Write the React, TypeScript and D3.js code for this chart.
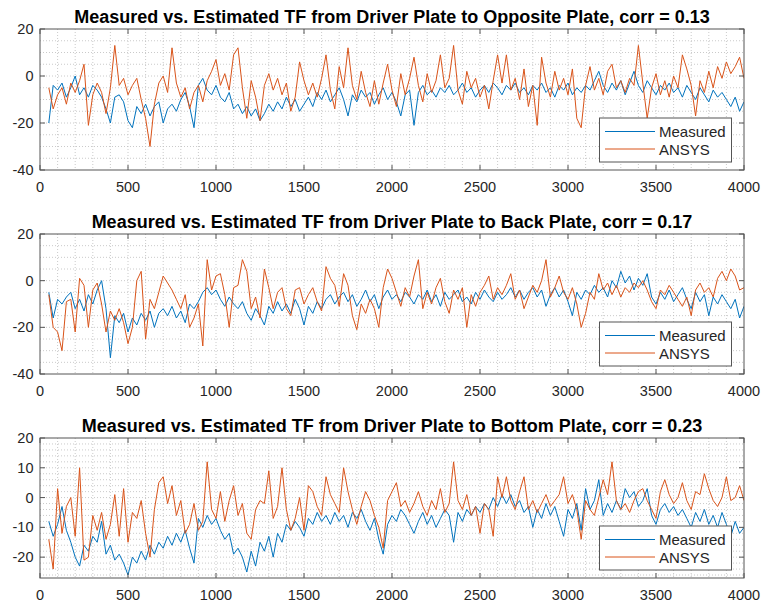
import React from 'react';
import * as d3 from 'd3';

// Frequency grid (Hz) shared by all curves
const freq: number[] = d3.range(50, 4001, 25);

// Driver plate -> opposite plate (dB)
const measuredOpposite = [
  -20, -4, -6, -3, -9, -5, 0, -8, -5, -9,
  -4, -6, -9, -14, -20, -9, -8, -11, -19, -22,
  -13, -16, -12, -17, -13, -11, -20, -14, -12, -15,
  -10, -7, -13, -22, -4, -1, -6, -8, -4, -9,
  -11, -7, -14, -12, -16, -13, -17, -14, -19, -16,
  -12, -15, -11, -14, -9, -13, -10, -15, -12, -9,
  -13, -7, -10, -6, -11, -8, -5, -10, -17, -8,
  -11, -6, -9, -7, -12, -8, -5, -10, -7, -11,
  -17, -8, -6, -21, -7, -4, -8, -6, -9, -5,
  -7, -4, -8, -6, -3, -7, -5, -9, -6, -4,
  -7, -3, -5, -8, -4, -6, -3, -7, -5, -8,
  -4, -6, -3, -7, -5, -9, -4, -6, -3, -8,
  -5, -7, -4, -6, -2, 2, -4, -7, -3, -6,
  -2, -8, -3, 2, -4, -7, -2, -5, -8, -4,
  -6, -3, -7, -5, -9, -4, -7, -10, -5, -8,
  -11, -6, -9, -7, -10, -13, -9, -15, -11,
];
const ansysOpposite = [
  -5, -14, -8, -5, -12, -3, -7, -2, 5, -21,
  -8, -3, -7, -16, -5, 13, -4, -1, -8, -4,
  -1, -10, -18, -30, -12, -3, 0, -7, 12, -3,
  -9, -5, -14, -7, -4, -11, -2, 2, 7, -4,
  1, -6, 9, 12, -5, -18, -2, -9, -19, -4,
  1, -6, -1, -8, -3, -15, -9, 6, -2, -8,
  -3, -9, -1, 9, -6, -14, 4, -5, 12, -4,
  -10, 2, -7, -13, -2, -12, -3, 5, -6, -13,
  1, -8, -1, 8, -4, -11, 1, -7, -2, 9,
  -5, -1, 13, -6, -12, 2, -5, -1, -9, -4,
  -14, -2, 9, -3, 9, -6, -1, -10, 3, -13,
  -4, -21, 8, -3, -9, 2, -6, -1, -8, 3,
  -18, -22, -4, 4, -6, -1, -8, 2, 5, -5,
  -2, -7, -1, -4, 13, -3, -18, -5, 1, -8,
  -2, -9, 0, -5, 9, 3, -4, -17, -2, -7,
  2, -5, 4, -1, 6, 1, 4, 8, -1,
];

// Driver plate -> back plate (dB)
const measuredBack = [
  -5, -16, -8, -10, -7, -5, -12, -8, -13, -6,
  -10, -4, 0, -12, -33, -15, -18, -14, -22, -16,
  -19, -14, -17, -13, -20, -14, -12, -15, -11, -16,
  -13, -18, -10, -12, -9, -5, -3, -6, -4, -8,
  -11, -7, -10, -12, -9, -14, -17, -12, -15, -19,
  -11, -14, -9, -13, -10, -14, -8, -12, -19, -11,
  -14, -9, -12, -8, -6, -10, -7, -5, -9, -6,
  -11, -8, -4, -9, -6, -12, -7, -4, -8, -6,
  -9, -5, -7, -10, -6, -8, -4, -9, -6, -11,
  -5, -8, -6, -4, -9, -7, -10, -5, -8, -4,
  -7, -9, -5, -8, -6, -3, -7, -4, -8, -5,
  -3, -7, -4, -11, -6, -3, -7, -4, -9, -15,
  -5, -8, -4, -6, -2, -5, -3, -7, 0, -3,
  4, -1, 2, -4, 1, -2, 3, -7, -10, -5,
  -8, -4, -9, -6, -3, -8, -12, -5, -9, -6,
  -15, -7, -10, -6, -9, -12, -8, -16, -11,
];
const ansysBack = [
  -6, -20, -22, -30, -9, -8, -22, 1, -2, -20,
  -4, -1, -10, -22, -13, -17, -12, -18, -27, -20,
  0, 4, -25, -8, -12, -5, 2, -1, -4, -8,
  -12, -6, -20, -16, -10, -28, 9, -4, 2, 3,
  -6, -20, -3, -2, 9, 4, -12, -7, -16, 5,
  -3, -12, -5, -3, -12, -15, -4, -3, -10, -6,
  -3, -9, -13, 6, 1, -2, -11, 3, -2, -15,
  -21, -10, -14, -8, -12, -20, -3, 5, 1, -5,
  -11, -3, -7, 2, 9, -12, -5, -10, -3, 1,
  -9, -14, -4, -8, -3, -20, -6, -11, -5, -2,
  2, -8, -3, -6, -2, 3, -8, -4, -12, -7,
  -2, -5, 0, 9, -7, -3, 2, -5, -8, -3,
  -10, -20, -14, -5, -8, 3, -4, -1, -6, -2,
  -7, -3, -5, -1, -3, 0, -4, -9, -12, -4,
  -6, -2, -5, -8, -11, -7, -15, -4, -1, -5,
  -3, -7, 1, 4, 0, 5, 2, -4, -3,
];

// Driver plate -> bottom plate (dB)
const measuredBottom = [
  -8, -13, -9, -3, -11, -15, -20, -23, -16, -18,
  -13, -15, -8, -19, -16, -21, -19, -22, -26, -20,
  -22, -18, -21, -16, -19, -15, -17, -13, -16, -12,
  -15, -11, -17, -22, -7, -10, -6, -9, -7, -11,
  -14, -12, -19, -17, -20, -25, -18, -23, -15, -18,
  -13, -20, -12, -15, -9, -11, -8, -10, -13, -7,
  -9, -5, -8, -6, -9, -5, -8, -6, -10, -5,
  -7, -4, -8, -11, -7, -14, -19, -9, -6, -8,
  -4, -6, -9, -12, -8, -5, -9, -6, -10, -7,
  -4, -6, -15, -5, -8, -4, -6, -3, -5, -2,
  -4, 0, -3, 1, -2, 1, -3, -1, -5, -3,
  -10, -4, -7, -2, -6, -3, -8, -13, -4, -7,
  -2, -11, 3, -4, -1, 6, -6, -2, -5, -1,
  -4, 3, 0, 2, -3, -1, 3, -6, -9, -4,
  -2, -5, -3, -6, -4, -7, -10, -5, -8, -4,
  -9, -6, -10, -5, -9, -13, -8, -12, -10,
];
const ansysBottom = [
  -14, -24, 3, -12, -3, 0, -13, 10, -21, -20,
  -6, -11, -5, -14, -9, 1, -13, 3, -15, -5,
  -7, -1, -12, -20, -4, 5, 7, -2, 4, -6,
  -1, -12, -9, -2, -11, -8, 12, -4, -7, 2,
  -8, -1, 4, -6, -2, -12, -14, -4, -1, -2,
  9, -7, -3, 10, -4, -11, -7, 0, -11, 4,
  2, -3, -6, 7, 1, -2, -5, 10, 2, -4,
  -9, -3, 2, -1, -6, -10, -17, -1, 2, 5,
  -3, -1, -5, -2, 2, -3, -6, -1, -4, 3,
  -5, -2, 12, -1, -4, 1, -6, -3, -12, -2,
  -4, -13, 7, 0, 7, -1, -4, 2, 7, -4,
  -1, -5, -2, 1, -3, -1, 1, 7, -2, 1,
  -4, -14, -1, -4, -6, 0, 6, 1, 12, -1,
  -4, -2, -5, -1, 2, 3, -1, -4, -7, 2,
  6, 1, -2, 0, 5, -1, -4, 2, 1, 8,
  3, -1, -3, 0, 7, -1, 0, 4, -1,
];

const xTicks = [0, 500, 1000, 1500, 2000, 2500, 3000, 3500, 4000];
const yTicksWide = [-40, -20, 0, 20];
const yTicksBottom = [-20, -10, 0, 10, 20];
const legendLabels = ['Measured', 'ANSYS'];
const titles = [
  'Measured vs. Estimated TF from Driver Plate to Opposite Plate, corr = 0.13',
  'Measured vs. Estimated TF from Driver Plate to Back Plate, corr = 0.17',
  'Measured vs. Estimated TF from Driver Plate to Bottom Plate, corr = 0.23',
];

const BLUE = '#0072BD';
const ORANGE = '#D95319';
const AXIS = '#555555';
const TEXT = '#262626';
const FONT = '"Liberation Sans", Arial, Helvetica, sans-serif';

const W = 764;
const H = 605;
const LEFT = 40;
const RIGHT = 744;

type PanelProps = {
  id: string;
  title: string;
  measured: number[];
  ansys: number[];
  yDomain: [number, number];
  yTicks: number[];
  minorStep: number;
  top: number;
  bottom: number;
};

function Panel({ id, title, measured, ansys, yDomain, yTicks, minorStep, top, bottom }: PanelProps) {
  const x = d3.scaleLinear().domain([0, 4000]).range([LEFT, RIGHT]);
  const y = d3.scaleLinear().domain(yDomain).range([bottom, top]);
  const line = d3
    .line<number>()
    .x((_, i) => x(freq[i]))
    .y((d) => y(d));

  const minorX = d3.range(100, 4000, 100);
  const minorY = d3
    .range(Math.ceil(yDomain[0] / minorStep) * minorStep, yDomain[1] + 1e-9, minorStep)
    .filter((v) => v > yDomain[0] && v < yDomain[1]);
  const tickLen = 5;
  const legX = 599.5;
  const legY = bottom - 52;

  return (
    <g>
      <defs>
        <clipPath id={`clip-${id}`}>
          <rect x={LEFT} y={top} width={RIGHT - LEFT} height={bottom - top} />
        </clipPath>
      </defs>
      <rect x={LEFT} y={top} width={RIGHT - LEFT} height={bottom - top} fill="#fff" />
      {/* grid */}
      <g stroke="#bdbdbd" strokeWidth={0.8} strokeDasharray="1,2" fill="none">
        {minorX.map((v) => (
          <line key={`gx${v}`} x1={x(v)} x2={x(v)} y1={top} y2={bottom} />
        ))}
        {minorY.map((v) => (
          <line key={`gy${v}`} x1={LEFT} x2={RIGHT} y1={y(v)} y2={y(v)} />
        ))}
      </g>
      {/* curves */}
      <g clipPath={`url(#clip-${id})`} fill="none" strokeWidth={1} strokeLinejoin="round">
        <path d={line(measured) ?? ''} stroke={BLUE} />
        <path d={line(ansys) ?? ''} stroke={ORANGE} />
      </g>
      {/* box and ticks */}
      <rect x={LEFT} y={top} width={RIGHT - LEFT} height={bottom - top} fill="none" stroke={AXIS} strokeWidth={1} />
      <g stroke={AXIS} strokeWidth={1}>
        {xTicks.map((v) => (
          <g key={`xt${v}`}>
            <line x1={x(v)} x2={x(v)} y1={bottom} y2={bottom - tickLen} />
            <line x1={x(v)} x2={x(v)} y1={top} y2={top + tickLen} />
          </g>
        ))}
        {yTicks.map((v) => (
          <g key={`yt${v}`}>
            <line x1={LEFT} x2={LEFT + tickLen} y1={y(v)} y2={y(v)} />
            <line x1={RIGHT} x2={RIGHT - tickLen} y1={y(v)} y2={y(v)} />
          </g>
        ))}
      </g>
      <g fill={TEXT} fontFamily={FONT} fontSize={14.5}>
        {xTicks.map((v) => (
          <text key={`xl${v}`} x={x(v)} y={bottom + 22} textAnchor="middle">
            {v}
          </text>
        ))}
        {yTicks.map((v) => (
          <text key={`yl${v}`} x={LEFT - 6.5} y={y(v) + 5} textAnchor="end">
            {v}
          </text>
        ))}
      </g>
      <text
        x={(LEFT + RIGHT) / 2}
        y={top - 6.5}
        textAnchor="middle"
        fontFamily={FONT}
        fontWeight="bold"
        fontSize={18}
        fill="#000"
      >
        {title}
      </text>
      {/* legend */}
      <g>
        <rect x={legX} y={legY} width={132} height={44} fill="#fff" stroke={AXIS} strokeWidth={1} />
        {legendLabels.map((lab, i) => {
          const cy = legY + 13.5 + i * 17.5;
          return (
            <g key={lab}>
              <line x1={legX + 5.5} x2={legX + 55.5} y1={cy} y2={cy} stroke={i === 0 ? BLUE : ORANGE} strokeWidth={1} />
              <text x={legX + 59.5} y={cy + 5.5} fontFamily={FONT} fontSize={15} fill={TEXT}>
                {lab}
              </text>
            </g>
          );
        })}
      </g>
    </g>
  );
}

export default function App() {
  return (
    <svg
      width={W}
      height={H}
      viewBox={`0 0 ${W} ${H}`}
      style={{ position: 'absolute', left: 0, top: 0, background: '#fff' }}
    >
      <rect width={W} height={H} fill="#fff" />
      <Panel
        id="p1"
        title={titles[0]}
        measured={measuredOpposite}
        ansys={ansysOpposite}
        yDomain={[-40, 20]}
        yTicks={yTicksWide}
        minorStep={5}
        top={29}
        bottom={170}
      />
      <Panel
        id="p2"
        title={titles[1]}
        measured={measuredBack}
        ansys={ansysBack}
        yDomain={[-40, 20]}
        yTicks={yTicksWide}
        minorStep={5}
        top={234}
        bottom={374}
      />
      <Panel
        id="p3"
        title={titles[2]}
        measured={measuredBottom}
        ansys={ansysBottom}
        yDomain={[-27, 20]}
        yTicks={yTicksBottom}
        minorStep={2}
        top={438}
        bottom={578}
      />
    </svg>
  );
}
